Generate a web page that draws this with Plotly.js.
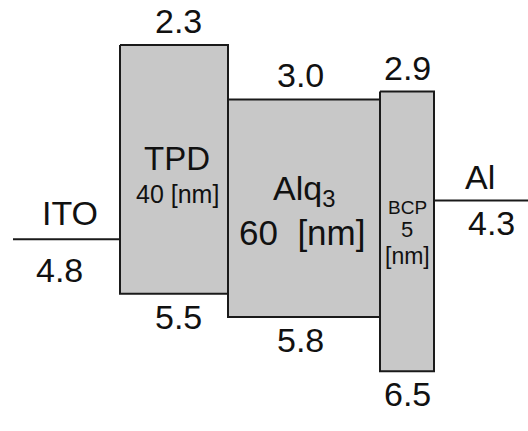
<!DOCTYPE html>
<html>
<head>
<meta charset="utf-8">
<script src="https://cdn.plot.ly/plotly-3.0.1.min.js"></script>
<style>html,body{margin:0;padding:0;background:#fff;}#chart{width:528px;height:431px;}</style>
</head>
<body>
<div id="chart"></div>
<script>
// ---- data (energies in eV, drawn on a reversed energy axis) ----
const layerNames = ["TPD", "Alq3", "BCP"];
const layerLUMO = [2.3, 3.0, 2.9];
const layerHOMO = [5.5, 5.8, 6.5];
const layerThickness = ["40 [nm]", "60 [nm]", "5 [nm]"];
const electrodeNames = ["ITO", "Al"];
const electrodeWorkFunction = [4.8, 4.3];

// ---- layout geometry (horizontal slots of the schematic) ----
const layerSlots = [[120, 228], [228, 380], [380, 434]];
const electrodeSlots = [[13, 120], [434, 528]];

const FONT = "Liberation Sans, Arial, sans-serif";
const NUM = 34;
const traces = [];
const annotations = [];
function fmt(v){ return v.toFixed(1); }

// electrodes
electrodeNames.forEach((name, i) => {
  const [x0, x1] = electrodeSlots[i];
  const wf = electrodeWorkFunction[i];
  traces.push({x: [x0, x1], y: [wf, wf], mode: "lines", type: "scatter",
    line: {color: "#1a1a1a", width: 2}, hoverinfo: "skip", showlegend: false});
  const cx = (x0 + x1) / 2;
  const nameShift = i === 0 ? 3 : -1;
  const valShift = i === 0 ? -7 : 10;
  const below = i === 0 ? -31 : -23;
  const above = i === 0 ? 26 : 23;
  annotations.push({x: cx, y: wf, xref: "x", yref: "y", text: name, showarrow: false,
    xshift: nameShift, yshift: above, font: {size: NUM, color: "#111", family: FONT}});
  annotations.push({x: cx, y: wf, xref: "x", yref: "y", text: fmt(wf), showarrow: false,
    xshift: valShift, yshift: below, font: {size: NUM, color: "#111", family: FONT}});
});

// organic layers
layerNames.forEach((name, i) => {
  const [x0, x1] = layerSlots[i];
  const lu = layerLUMO[i], ho = layerHOMO[i];
  traces.push({x: [x0, x1, x1, x0, x0], y: [lu, lu, ho, ho, lu], mode: "lines", type: "scatter",
    fill: "toself", fillcolor: "#c8c8c8", line: {color: "#1a1a1a", width: 2},
    hoverinfo: "skip", showlegend: false});
  const cx = (x0 + x1) / 2;
  const mid = (lu + ho) / 2;
  const xs = [4, -4, 0][i];
  annotations.push({x: cx, y: lu, xref: "x", yref: "y", text: fmt(lu), showarrow: false,
    xshift: xs, yshift: 24, font: {size: NUM, color: "#111", family: FONT}});
  annotations.push({x: cx, y: ho, xref: "x", yref: "y", text: fmt(ho), showarrow: false,
    xshift: xs, yshift: -23, font: {size: NUM, color: "#111", family: FONT}});
  if (i === 0) {
    annotations.push({x: cx + 3, y: mid, xref: "x", yref: "y", text: name, showarrow: false,
      yshift: 11, font: {size: 33, color: "#111", family: FONT}});
    annotations.push({x: cx + 3, y: mid, xref: "x", yref: "y", text: layerThickness[i], showarrow: false,
      yshift: -25, font: {size: 25, color: "#111", family: FONT}});
  } else if (i === 1) {
    annotations.push({x: cx, y: mid, xref: "x", yref: "y",
      text: "Alq<sub>3</sub>", showarrow: false,
      yshift: 18, font: {size: 34, color: "#111", family: FONT}});
    annotations.push({x: cx - 2, y: mid, xref: "x", yref: "y", text: layerThickness[i].replace(" ", "\u00a0\u00a0"), showarrow: false,
      yshift: -24, font: {size: 35, color: "#111", family: FONT}});
  } else {
    const parts = layerThickness[i].split(" ");
    annotations.push({x: cx, y: mid, xref: "x", yref: "y", text: name, showarrow: false,
      yshift: 24, font: {size: 19, color: "#111", family: FONT}});
    annotations.push({x: cx, y: mid, xref: "x", yref: "y", text: parts[0], showarrow: false,
      yshift: 2, font: {size: 22, color: "#111", family: FONT}});
    annotations.push({x: cx, y: mid, xref: "x", yref: "y", text: parts[1], showarrow: false,
      yshift: -25, font: {size: 23, color: "#111", family: FONT}});
  }
});

const layout = {
  width: 528, height: 431,
  margin: {l: 0, r: 0, t: 0, b: 0},
  paper_bgcolor: "#ffffff", plot_bgcolor: "#ffffff",
  xaxis: {range: [0, 528], visible: false, fixedrange: true},
  yaxis: {range: [7.268, 1.721], visible: false, fixedrange: true},
  annotations: annotations,
  showlegend: false
};

Plotly.newPlot("chart", traces, layout, {staticPlot: true, displayModeBar: false});
</script>
</body>
</html>
